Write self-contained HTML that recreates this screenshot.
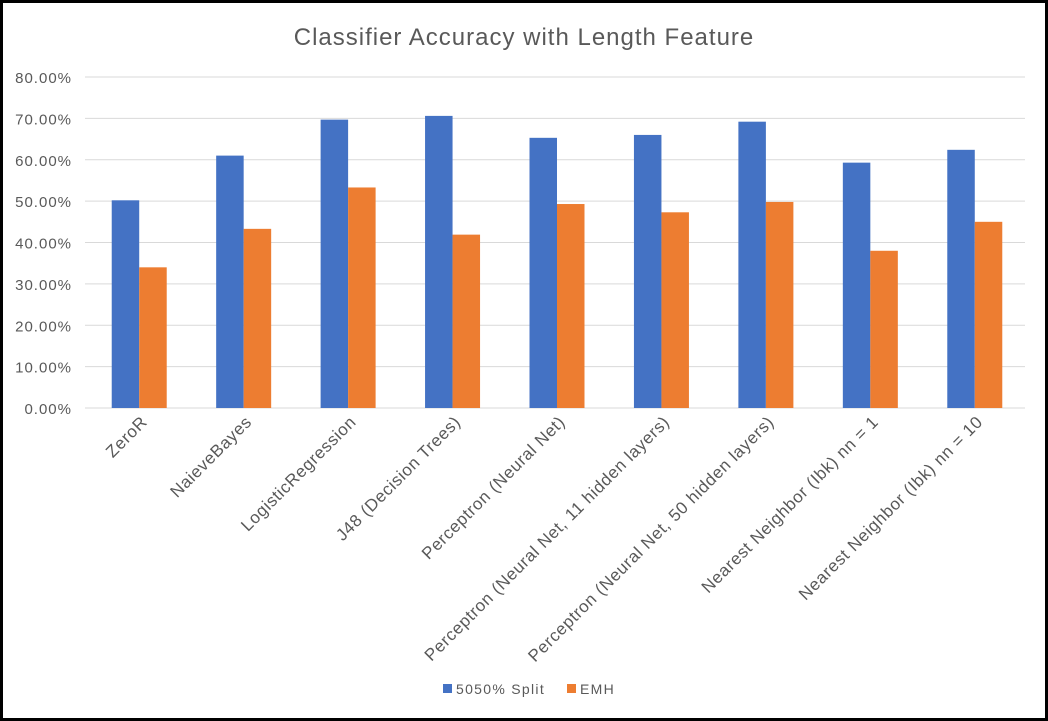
<!DOCTYPE html>
<html><head><meta charset="utf-8"><style>
html,body{margin:0;padding:0;background:#fff;}
svg{display:block;font-family:"Liberation Sans",sans-serif;}
</style></head><body>
<svg id="chart" width="1048" height="721" viewBox="0 0 1048 721">
<rect x="1.5" y="1.5" width="1045" height="718" fill="#fff" stroke="#000" stroke-width="3"/>
<text x="524" y="45" text-anchor="middle" font-size="24" letter-spacing="1" fill="#595959">Classifier Accuracy with Length Feature</text>
<g id="grid"></g><g id="bars"></g><g id="labels"></g>
<g>
<rect x="443" y="684" width="9" height="9" fill="#4472C4"/>
<text x="456" y="694" font-size="14" letter-spacing="1.3" fill="#595959">5050% Split</text>
<rect x="567" y="684" width="9" height="9" fill="#ED7D31"/>
<text x="580" y="694" font-size="14" letter-spacing="1.3" fill="#595959">EMH</text>
</g>
</svg>
<script>
const categories=["ZeroR","NaieveBayes","LogisticRegression","J48 (Decision Trees)","Perceptron (Neural Net)","Perceptron (Neural Net, 11 hidden layers)","Perceptron (Neural Net, 50 hidden layers)","Nearest Neighbor (Ibk) nn = 1","Nearest Neighbor (Ibk) nn = 10"];
const splitValues=[50.2,61.0,69.7,70.6,65.3,66.0,69.2,59.3,62.4];
const emhValues=[34.0,43.3,53.3,41.9,49.3,47.3,49.8,38.0,45.0];
const yTicks=[0,10,20,30,40,50,60,70,80];
const NS="http://www.w3.org/2000/svg";
const x0=87,x1=1027,yBase=408,yTop=77,yMax=80;
const y=v=>yBase-(v/yMax)*(yBase-yTop);
const bw=(x1-x0)/categories.length;
const cx=i=>x0+bw*(i+0.5);
function mk(tag,attrs,parent){const e=document.createElementNS(NS,tag);for(const k in attrs)e.setAttribute(k,attrs[k]);parent.appendChild(e);return e;}
const grid=document.getElementById('grid'),bars=document.getElementById('bars'),labels=document.getElementById('labels');
yTicks.forEach(t=>{
 const l=mk('line',{x1:85,x2:1025,y1:y(t),y2:y(t),stroke:'#d9d9d9','stroke-width':1},grid);
 
 
 const tx=mk('text',{x:72,y:y(t)+6,'text-anchor':'end','font-size':15,'letter-spacing':1,fill:'#595959'},grid);
 tx.textContent=t.toFixed(2)+'%';
 
 
});
const w=27.5;
categories.forEach((c,i)=>{
 const b1=mk('rect',{x:cx(i)-w,y:y(splitValues[i]),width:w,height:yBase-y(splitValues[i]),fill:'#4472C4'},bars);
 
 
 const b2=mk('rect',{x:cx(i),y:y(emhValues[i]),width:w,height:yBase-y(emhValues[i]),fill:'#ED7D31'},bars);
 
 
 const lx=cx(i)+9,ly=423;
 const t=mk('text',{x:lx,y:ly,'text-anchor':'end','font-size':17,'letter-spacing':0.6,fill:'#595959',transform:`rotate(-45 ${lx} ${ly})`},labels);
 t.textContent=c;
 
 
});
</script>
</body></html>
